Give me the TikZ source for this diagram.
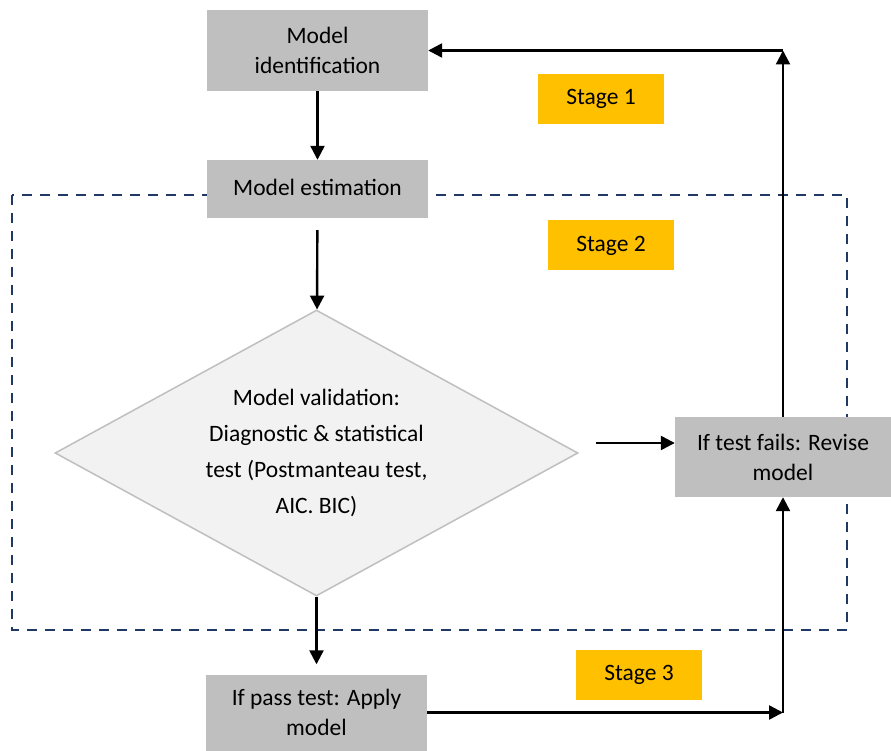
\documentclass[tikz,border=0pt]{standalone}
\usepackage{fontspec}
\setmainfont{Carlito}
\usetikzlibrary{shapes.geometric,arrows.meta}

\definecolor{boxgray}{HTML}{BFBFBF}
\definecolor{stageyellow}{HTML}{FFC000}
\definecolor{diafill}{HTML}{F2F2F2}
\definecolor{stagenavy}{HTML}{203864}

\begin{document}
\begin{tikzpicture}[x=1pt, y=-1pt,
  every node/.style={font=\fontsize{23.5}{30}\selectfont, inner sep=0pt},
  stepbox/.style={rectangle, fill=boxgray, align=center},
  stagetag/.style={rectangle, fill=stageyellow, minimum width=126pt, minimum height=50pt},
  flow/.style={line width=2.4pt, -{Triangle[length=14pt, width=14pt]}}]
\useasboundingbox (0, 0) rectangle (891, 751);

% stage 2 frame
\draw[stagenavy, line width=2.4pt, dash pattern=on 10pt off 8pt] (12, 195) rectangle (847, 630);

\node[stepbox, minimum width=221pt, minimum height=81pt] (ident) at (317.5, 50.5) {Model\\identification};
\node[stepbox, minimum width=221pt, minimum height=58pt, text depth=4pt] (estim) at (317.5, 189) {Model estimation};
\node[diamond, aspect=1.83, fill=diafill, draw=boxgray, line width=1.5pt,
  minimum width=523pt, minimum height=286pt, align=center,
  font=\fontsize{23.5}{36}\selectfont] (valid) at (316.5, 453)
  {Model validation:\\Diagnostic \& statistical\\test (Postmanteau test,\\AIC. BIC)};
\node[stepbox, minimum width=221pt, minimum height=76pt] (applyb) at (316.5, 712.5) {If pass test: Apply\\model};
\node[stepbox, minimum width=216pt, minimum height=80pt] (revise) at (783, 457) {If test fails: Revise\\model};

\node[stagetag] (stage1) at (601, 99) {Stage 1};
\node[stagetag] (stage2) at (611, 245.5) {Stage 2};
\node[stagetag] (stage3) at (639, 674.5) {Stage 3};

\coordinate (corner) at (revise.south |- applyb.east);
\coordinate (top) at (revise.north |- ident.east);
\coordinate (fail) at ([yshift=10pt]valid.east);

\draw[flow] (ident) -- (estim);
\draw[flow, shorten <=12pt] (estim) -- (valid);
\draw[flow, shorten >=10pt] (valid) -- (applyb);
\draw[flow, shorten <=17pt] (fail) -- (fail -| revise.west);
\draw[flow] (applyb) -- (corner);
\draw[flow] (corner) -- (revise);
\draw[flow] (revise) -- (top);
\draw[flow] (top) -- (ident);

\end{tikzpicture}
\end{document}
